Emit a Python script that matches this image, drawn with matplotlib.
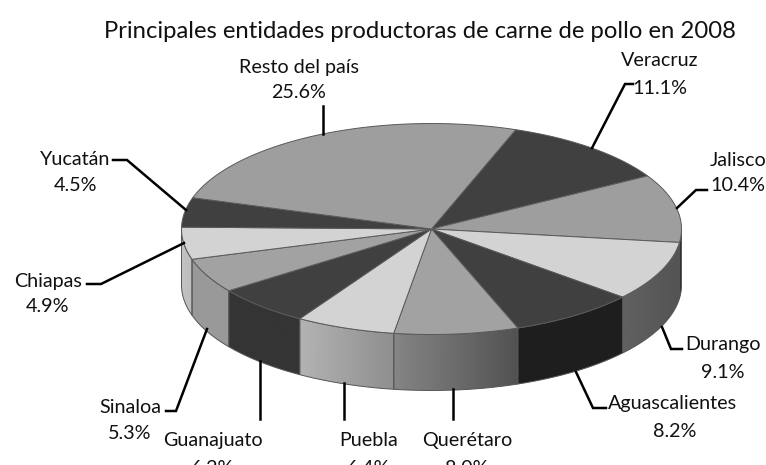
import numpy as np
import matplotlib
matplotlib.use("Agg")
import matplotlib.pyplot as plt
from matplotlib.patches import Polygon

# data
entidades = ["Veracruz", "Jalisco", "Durango", "Aguascalientes", "Querétaro", "Puebla",
             "Guanajuato", "Sinaloa", "Chiapas", "Yucatán", "Resto del país"]
porcentajes = [11.1, 10.4, 9.1, 8.2, 8.0, 6.4, 6.2, 5.3, 4.9, 4.5, 25.6]
titulo = "Principales entidades productoras de carne de pollo en 2008"

# colours: top face, side face gradient (left, right)
color_top = ["#404040", "#9e9e9e", "#d3d3d3", "#404040", "#a2a2a2", "#d3d3d3",
             "#404040", "#a2a2a2", "#d3d3d3", "#404040", "#9e9e9e"]
color_side = [(0.2, 0.2), (0.2, 0.2), (0.38, 0.33), (0.12, 0.12), (0.52, 0.32), (0.70, 0.56),
              (0.21, 0.21), (0.60, 0.60), (0.76, 0.74), (0.25, 0.25), (0.6, 0.6)]

# layout in pixels
W, H = 766, 465
cx, cy, a, b, depth = 431.5, 229, 250, 105.5, 56
inicio = 19.7

# leader lines and label centres, same order as entidades
lineas = [[(592, 148), (625, 84), (633, 84)], [(677, 208), (696, 190), (707, 190)],
          [(662, 327), (671, 349), (682, 349)], [(576, 372), (593, 408), (606, 408)],
          [(453, 389), (453, 419)], [(344, 383), (344, 419)], [(260, 361), (260, 419)],
          [(207, 329), (176, 411), (166, 411)], [(184, 243), (101, 284), (87, 284)],
          [(186, 210), (127, 160), (113, 160)], [(323, 134), (323, 106)]]
pos_nombre = [(660, 61), (738, 160), (723, 344), (672, 403), (467, 440), (369, 440),
              (213, 440), (130, 407), (48, 281), (75, 159), (299, 67)]
pos_valor = [(660, 88), (738, 185), (723, 372), (675, 431), (467, 468), (369, 468),
             (213, 468), (130, 433), (47, 306), (75, 185), (299, 93)]


def elipse(t):
    t = np.radians(t)
    return cx + a * np.sin(t), cy - b * np.cos(t)


fig = plt.figure(figsize=(W / 100, H / 100), dpi=100)
ax = fig.add_axes([0, 0, 1, 1])

total = sum(porcentajes)
bordes = inicio + np.cumsum([0] + porcentajes) * 360 / total

# side wall
for i in range(len(porcentajes)):
    t0, t1 = max(bordes[i], 90), min(bordes[i + 1], 270)
    if t0 >= t1:
        continue
    t = np.linspace(t0, t1, 60)
    x, y = elipse(t)
    xy = np.r_[np.c_[x, y], np.c_[x[::-1], y[::-1] + depth]]
    pol = Polygon(xy, facecolor="none", edgecolor="#555555", lw=0.7, zorder=3)
    ax.add_patch(pol)
    grad = np.linspace(color_side[i][0], color_side[i][1], 100).reshape(1, -1)
    ext = [x.min(), x.max(), y.max() + depth, y.min()]
    im = ax.imshow(grad, extent=ext, cmap="gray", vmin=0, vmax=1, aspect="auto", zorder=2)
    im.set_clip_path(pol)

# top face
for i in range(len(porcentajes)):
    x, y = elipse(np.linspace(bordes[i], bordes[i + 1], 80))
    ax.add_patch(Polygon(np.r_[[[cx, cy]], np.c_[x, y]], facecolor=color_top[i],
                         edgecolor="#5a5a5a", lw=0.7, zorder=4))

# leaders and labels
for i, nombre in enumerate(entidades):
    px, py = zip(*lineas[i])
    ax.plot(px, py, color="black", lw=1.8, solid_joinstyle="miter", zorder=5)
    ax.text(*pos_nombre[i], nombre, fontsize=14.2, family="Lato", ha="center", va="center", color="#111111")
    ax.text(*pos_valor[i], "%.1f%%" % porcentajes[i], fontsize=14.2, family="Lato", ha="center", va="center", color="#111111")

ax.text(420, 32, titulo, fontsize=17.2, family="Lato", ha="center", va="center", color="#111111")

ax.set_xlim(0, W)
ax.set_ylim(H, 0)
ax.axis("off")
fig.savefig("out.png", dpi=100)
